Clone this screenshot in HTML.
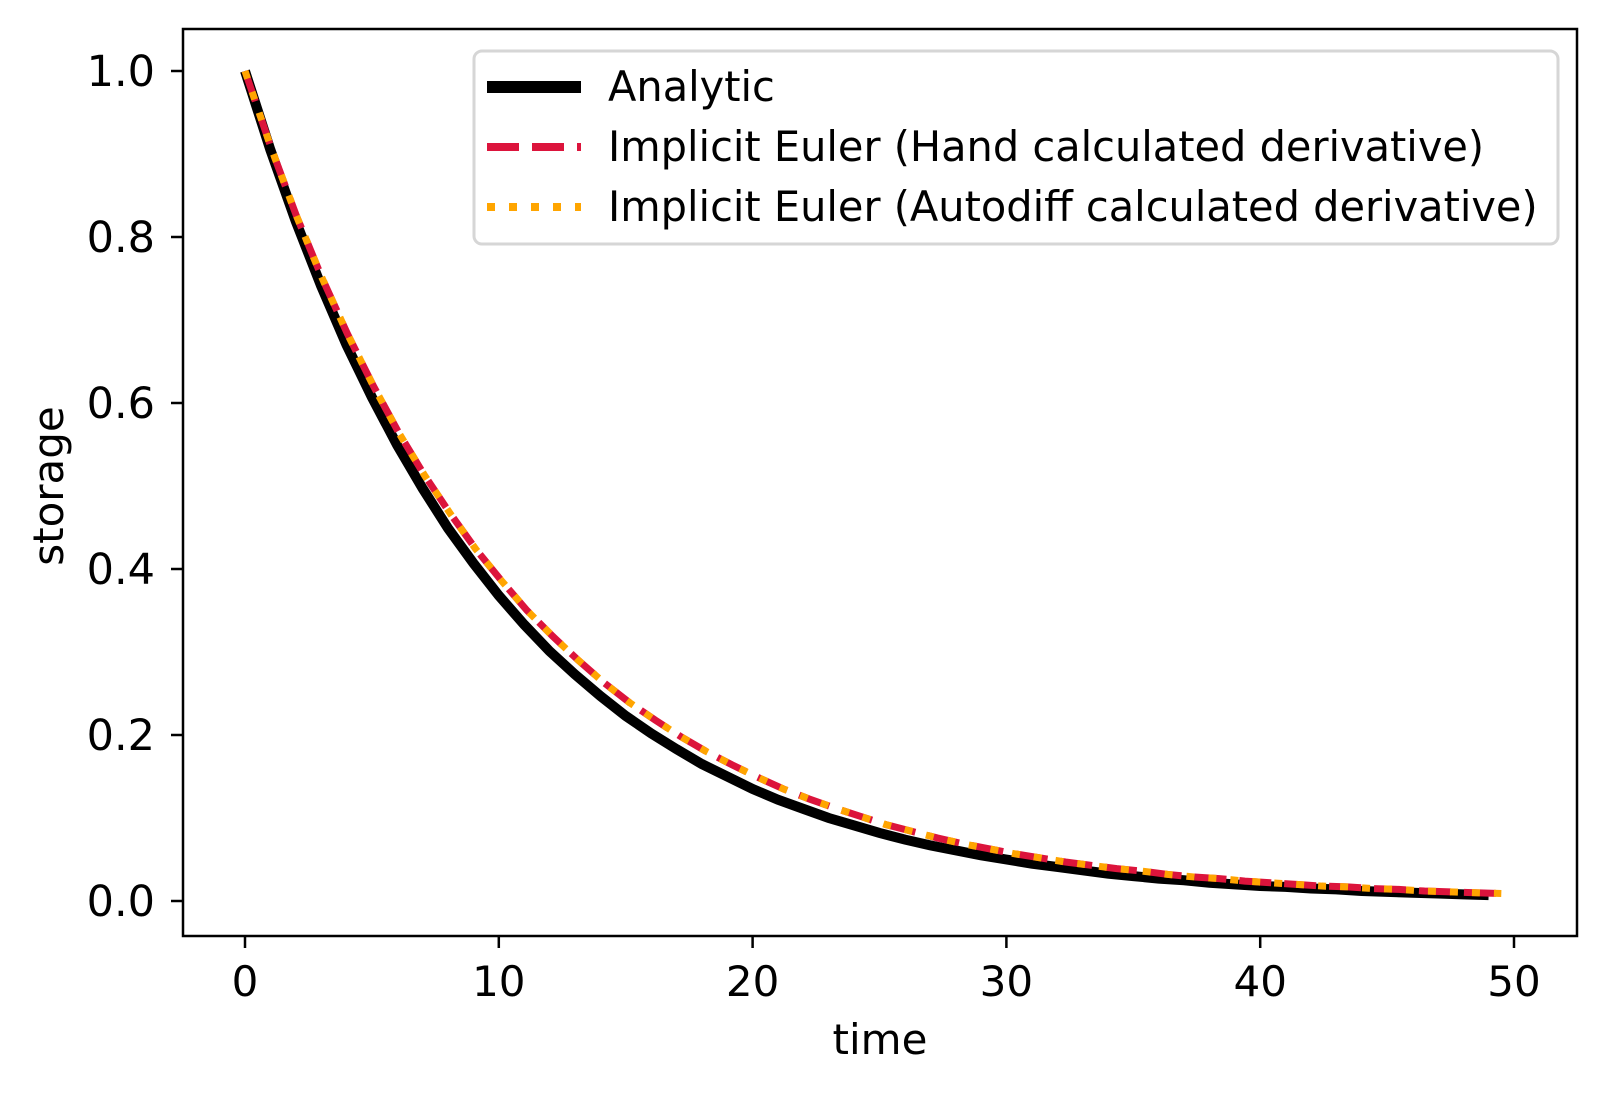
<!DOCTYPE html>
<html><head><meta charset="utf-8"><style>
body{margin:0;background:#fff}
svg text{font-family:"DejaVu Sans","Liberation Sans",sans-serif;fill:#000}
</style></head><body>
<svg id="chart" width="1607" height="1091" xmlns="http://www.w3.org/2000/svg">
<rect width="1607" height="1091" fill="#fff"/>
<g id="plot"></g>
</svg>
<script>
const analyticTimes = Array.from({length:50},(_, i)=>i);
const analyticValues = [1,.905,.819,.741,.670,.607,.549,.497,.449,.407,.368,.333,.301,.273,.247,.223,.202,.183,.165,.150,.135,.122,.111,.100,.091,.082,.074,.067,.061,.055,.050,.045,.041,.037,.033,.030,.027,.025,.022,.020,.018,.017,.015,.014,.012,.011,.010,.009,.008,.007];
const implicitDt = 49.5/49;
const handValues = [1,.909,.826,.751,.683,.621,.564,.513,.467,.424,.386,.350,.319,.290,.263,.239,.218,.198,.180,.164,.149,.135,.123,.112,.102,.092,.084,.076,.069,.063,.057,.052,.047,.043,.039,.036,.032,.029,.027,.024,.022,.020,.018,.017,.015,.014,.012,.011,.010,.009];
const autodiffValues = handValues.slice();
const xTicks = [0,10,20,30,40,50];
const yTicks = [0.0,0.2,0.4,0.6,0.8,1.0];
const legendLabels = ["Analytic","Implicit Euler (Hand calculated derivative)","Implicit Euler (Autodiff calculated derivative)"];

const L=183,R=1577,T=29,B=936;
const xs=v=>245+v*(1514-245)/50;
const ys=v=>901-v*(901-71);
const g=document.getElementById('plot');
const NS='http://www.w3.org/2000/svg';
function mk(tag,attrs,parent){const e=document.createElementNS(NS,tag);for(const k in attrs)e.setAttribute(k,attrs[k]);(parent||g).appendChild(e);return e;}

function series(times,vals,attrs,name){
  const d=vals.map((v,i)=>(i?'L':'M')+xs(times[i]).toFixed(2)+','+ys(v).toFixed(2)).join('');
  const p=mk('path',Object.assign({d:d,fill:'none'},attrs));
  
  
}
const implTimes=handValues.map((_,i)=>i*implicitDt);
series(analyticTimes,analyticValues,{stroke:'#000','stroke-width':10},'analytic-line');
series(implTimes,handValues,{stroke:'#dc143c','stroke-width':7,'stroke-dasharray':'32 13'},'hand-derivative-line');
series(implTimes,autodiffValues,{stroke:'#ffa500','stroke-width':7,'stroke-dasharray':'8 14'},'autodiff-derivative-line');

const frame=mk('rect',{x:L,y:T,width:R-L,height:B-T,fill:'none',stroke:'#000','stroke-width':2.5});



xTicks.forEach(t=>{
  mk('line',{x1:xs(t),x2:xs(t),y1:B,y2:B+12,stroke:'#000','stroke-width':2.5});
  const tx=mk('text',{x:xs(t),y:B+60,'text-anchor':'middle','font-size':42});
  tx.textContent=t;
  
  
});
yTicks.forEach(t=>{
  mk('line',{x1:L-12,x2:L,y1:ys(t),y2:ys(t),stroke:'#000','stroke-width':2.5});
  const tx=mk('text',{x:L-28,y:ys(t)+15,'text-anchor':'end','font-size':43});
  tx.textContent=t.toFixed(1);
  
  
});
const xt=mk('text',{x:880,y:1054,'text-anchor':'middle','font-size':42});
xt.textContent='time';


const yt=mk('text',{x:0,y:0,'text-anchor':'middle','font-size':42,transform:'translate(63,486) rotate(-90)'});
yt.textContent='storage';



const lg=mk('g',{});


mk('rect',{x:474,y:51,width:1084,height:193,rx:8,fill:'#fff',stroke:'#d6d6d6','stroke-width':3},lg);
const sty=[{stroke:'#000','stroke-width':12},{stroke:'#dc143c','stroke-width':8,'stroke-dasharray':'32 13'},{stroke:'#ffa500','stroke-width':8,'stroke-dasharray':'8 14'}];
const ey=[87,147,207];
legendLabels.forEach((lab,i)=>{
  const ln=mk('line',Object.assign({x1:487,x2:581,y1:ey[i],y2:ey[i]},sty[i]),lg);
  
  
  const tx=mk('text',{x:608,y:ey[i]+14,'font-size':41.5},lg);
  tx.textContent=lab;
  
  
});
</script>
</body></html>
